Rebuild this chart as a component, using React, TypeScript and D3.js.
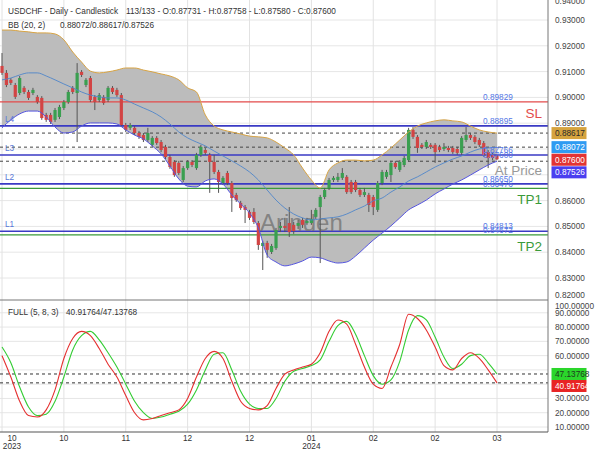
import React from "react";
import * as d3 from "d3";

// ---------- DATA ----------
const opens = [
  0.9122, 0.9095, 0.9068, 0.9048, 0.9017, 0.9037, 0.9021, 0.9017, 0.9002, 0.8998,
  0.8932, 0.8932, 0.8913, 0.8924, 0.8959, 0.8982, 0.9037, 0.9017, 0.9099, 0.9048,
  0.9075, 0.9002, 0.899, 0.9002, 0.899, 0.9037, 0.9029, 0.9009, 0.8893, 0.8882,
  0.8882, 0.8862, 0.8854, 0.8835, 0.8816, 0.8843, 0.8827, 0.8808, 0.8769, 0.875,
  0.8746, 0.868, 0.8726, 0.875, 0.8726, 0.8777, 0.8796, 0.8777, 0.875, 0.8711,
  0.8668, 0.8707, 0.8668, 0.8622, 0.8591, 0.8575, 0.8556, 0.8556, 0.8513, 0.8424,
  0.8436, 0.8401, 0.8416, 0.8494, 0.8502, 0.8513, 0.8506, 0.8502, 0.8525, 0.8513,
  0.8513, 0.8537, 0.8575, 0.8614, 0.8649, 0.868, 0.868, 0.8688, 0.8692, 0.8672,
  0.8672, 0.8641, 0.8622, 0.8622, 0.8614, 0.8564, 0.8668, 0.8692, 0.8699, 0.8746,
  0.8719, 0.8738, 0.8757, 0.8874, 0.8847, 0.8816, 0.8808, 0.8816, 0.8816, 0.8808,
  0.88, 0.8804, 0.8804, 0.88, 0.8785, 0.8835, 0.8854, 0.8847, 0.8835, 0.8823,
  0.8788, 0.8777, 0.87731,
];
const highs = [
  0.9172, 0.9106, 0.9075, 0.9056, 0.9083, 0.9044, 0.9029, 0.9037, 0.9009, 0.9005,
  0.894, 0.894, 0.8959, 0.8971, 0.899, 0.9029, 0.9044, 0.9133, 0.9106, 0.9075,
  0.9083, 0.9009, 0.9017, 0.9009, 0.9044, 0.9044, 0.9037, 0.9017, 0.8901, 0.8901,
  0.8889, 0.887, 0.8862, 0.8882, 0.885, 0.885, 0.8835, 0.8816, 0.8777, 0.8757,
  0.8754, 0.8734, 0.8757, 0.8757, 0.8785, 0.8816, 0.8804, 0.8785, 0.8777, 0.8719,
  0.8695, 0.8715, 0.8676, 0.863, 0.8599, 0.8583, 0.8564, 0.8571, 0.8521, 0.8444,
  0.8444, 0.8432, 0.8494, 0.8517, 0.8533, 0.8575, 0.8517, 0.8525, 0.8533, 0.8533,
  0.8564, 0.8571, 0.8622, 0.8649, 0.8688, 0.8695, 0.8707, 0.8726, 0.8699, 0.868,
  0.868, 0.8649, 0.8649, 0.863, 0.8622, 0.8676, 0.8719, 0.8719, 0.8754, 0.8754,
  0.8757, 0.8773, 0.8882, 0.8885, 0.8854, 0.8823, 0.8835, 0.8823, 0.8823, 0.8816,
  0.8823, 0.8812, 0.8812, 0.8808, 0.885, 0.8885, 0.8862, 0.8854, 0.8843, 0.8831,
  0.8796, 0.8785, 0.87758,
];
const lows = [
  0.9087, 0.904, 0.9048, 0.8994, 0.9009, 0.9013, 0.899, 0.9009, 0.8975, 0.8913,
  0.8905, 0.8897, 0.8905, 0.8916, 0.8951, 0.8975, 0.9013, 0.8827, 0.9079, 0.904,
  0.8982, 0.8951, 0.8982, 0.8971, 0.8982, 0.9013, 0.9002, 0.8885, 0.8866, 0.8874,
  0.8854, 0.8839, 0.8827, 0.8827, 0.8808, 0.8816, 0.8788, 0.8761, 0.8723, 0.8692,
  0.8699, 0.8672, 0.8719, 0.873, 0.8719, 0.8769, 0.8777, 0.863, 0.8703, 0.863,
  0.866, 0.866, 0.8556, 0.8595, 0.8564, 0.8513, 0.8525, 0.8509, 0.8409, 0.8331,
  0.8378, 0.8393, 0.8409, 0.8478, 0.8478, 0.8459, 0.8471, 0.849, 0.8494, 0.8506,
  0.8506, 0.8529, 0.8358, 0.8606, 0.8641, 0.8672, 0.8672, 0.868, 0.8626, 0.8626,
  0.8633, 0.8614, 0.8614, 0.8556, 0.8544, 0.8556, 0.866, 0.8684, 0.8672, 0.8723,
  0.8711, 0.873, 0.875, 0.8839, 0.8785, 0.88, 0.88, 0.88, 0.8746, 0.8788,
  0.8792, 0.8788, 0.8781, 0.8777, 0.8777, 0.8827, 0.8835, 0.8819, 0.8808, 0.8769,
  0.8726, 0.8757, 0.8758,
];
const closes = [
  0.9095, 0.9048, 0.9056, 0.9002, 0.9075, 0.9021, 0.8998, 0.9029, 0.8982, 0.892,
  0.8913, 0.8905, 0.8951, 0.8963, 0.8982, 0.9021, 0.9021, 0.9095, 0.9087, 0.9068,
  0.899, 0.8982, 0.9009, 0.8978, 0.9037, 0.9021, 0.9009, 0.8893, 0.8874, 0.8893,
  0.8862, 0.8847, 0.8835, 0.8862, 0.8843, 0.8823, 0.8796, 0.8769, 0.873, 0.8699,
  0.8707, 0.8726, 0.875, 0.8738, 0.8777, 0.8808, 0.8785, 0.875, 0.8711, 0.8672,
  0.8688, 0.8668, 0.861, 0.8602, 0.8571, 0.8564, 0.8533, 0.8517, 0.8428, 0.8436,
  0.8409, 0.8424, 0.8486, 0.8502, 0.8494, 0.8478, 0.8482, 0.8513, 0.8506, 0.8521,
  0.8529, 0.8564, 0.8614, 0.8641, 0.868, 0.8688, 0.8692, 0.8707, 0.8633, 0.8633,
  0.8641, 0.8622, 0.8633, 0.8583, 0.8575, 0.8668, 0.8711, 0.8711, 0.8746, 0.873,
  0.875, 0.8765, 0.8874, 0.8847, 0.8804, 0.8808, 0.8827, 0.8808, 0.8788, 0.8796,
  0.8808, 0.8796, 0.8788, 0.8785, 0.8843, 0.8854, 0.8843, 0.8827, 0.8816, 0.8777,
  0.8765, 0.8765, 0.876,
];

// Bollinger (20, 2) read every second candle
const bbUpper = [
  0.9261, 0.9261, 0.9257, 0.9254, 0.925, 0.925, 0.9246, 0.9223, 0.9176, 0.9137,
  0.9102, 0.9095, 0.9099, 0.9106, 0.9114, 0.9114, 0.9106, 0.9099, 0.9091, 0.9083,
  0.9068, 0.9037, 0.9021, 0.8932, 0.8889, 0.8874, 0.8866, 0.8858, 0.885, 0.8847,
  0.8843, 0.8827, 0.8804, 0.8777, 0.8726, 0.868, 0.8649, 0.8719, 0.8746, 0.8757,
  0.8757, 0.8754, 0.8757, 0.8777, 0.8804, 0.8835, 0.8866, 0.8889, 0.8901, 0.8909,
  0.8913, 0.8909, 0.8905, 0.8889, 0.8874, 0.8866, 0.88617,
];
const bbMid = [
  0.9068, 0.9075, 0.9087, 0.9095, 0.9095, 0.9083, 0.9068, 0.9052, 0.9037, 0.9021,
  0.9009, 0.9002, 0.8998, 0.8998, 0.899, 0.8974, 0.8959, 0.8944, 0.8924, 0.8897,
  0.8866, 0.8843, 0.8827, 0.8812, 0.8792, 0.8773, 0.8754, 0.8734, 0.8711, 0.868,
  0.8641, 0.8602, 0.8571, 0.8548, 0.8533, 0.8525, 0.8529, 0.8533, 0.8537, 0.8548,
  0.8564, 0.8579, 0.8599, 0.861, 0.8633, 0.8653, 0.8676, 0.8692, 0.8711, 0.873,
  0.8746, 0.8761, 0.8773, 0.8788, 0.88, 0.8804, 0.88072,
];
const bbLower = [
  0.8882, 0.8913, 0.8936, 0.8947, 0.8947, 0.8924, 0.8885, 0.8862, 0.8866, 0.8889,
  0.8901, 0.8901, 0.8901, 0.8897, 0.8874, 0.8854, 0.8839, 0.8812, 0.8781, 0.8734,
  0.8684, 0.8656, 0.8653, 0.8676, 0.8684, 0.8664, 0.8622, 0.8587, 0.8552, 0.8494,
  0.8389, 0.8362, 0.8347, 0.8354, 0.8366, 0.8381, 0.8378, 0.8366, 0.8358, 0.8362,
  0.8385, 0.8416, 0.8447, 0.8474, 0.8502, 0.8533, 0.8564, 0.8583, 0.8602, 0.8626,
  0.8645, 0.8664, 0.868, 0.8699, 0.8719, 0.8738, 0.87526,
];

// Full stochastic (5, 8, 3) read every second candle
const stochK = [
  60, 45, 28, 18, 17, 22, 36, 58, 72, 77, 74, 65, 54, 45, 32, 20, 15, 16, 18, 20,
  22, 30, 45, 58, 63, 58, 42, 28, 23, 22, 25, 37, 47, 50, 52, 54, 62, 77, 85, 82,
  68, 52, 40, 37, 52, 68, 89, 86, 78, 66, 53, 50, 58, 62, 58, 50, 40.91764,
];
const stochD = [
  66, 55, 38, 24, 18, 19, 28, 45, 64, 74, 77, 71, 62, 52, 40, 28, 20, 16, 17, 19,
  21, 26, 36, 50, 61, 62, 50, 35, 26, 23, 23, 30, 42, 49, 51, 53, 57, 70, 81, 84,
  75, 60, 46, 40, 43, 56, 78, 88, 85, 73, 59, 51, 54, 60, 61, 55, 47.13768,
];

const priceTicks = [0.82, 0.83, 0.84, 0.85, 0.86, 0.87, 0.88, 0.89, 0.9, 0.91, 0.92, 0.93, 0.94];
const stochTicks = [10, 20, 30, 40, 50, 60, 70, 80, 90, 100];
const dateTickIdx = [0, 14, 28, 42, 56, 70, 84, 98, 112];
const dateTickLabels = ["10", "10", "11", "12", "12", "01", "02", "02", "03"];
const yearTickLabels = ["2023", "", "", "", "", "2024", "", "", ""];

const levelPrices = [0.89829, 0.88895, 0.87766, 0.8665, 0.86476, 0.84813, 0.84672];
const levelKinds = ["sl", "l", "l", "l", "tp", "l", "tp"];
const levelNames = ["SL", "L4", "L3", "L2", "TP1", "L1", "TP2"];
const atPrice = 0.876;

const FONT = "'Liberation Sans', Arial, sans-serif";
const RIGHT = 548;
const TOP_BOTTOM = 300;
const BOT_BOTTOM = 432;

function stack(items: { y: number }[], gap: number) {
  const sorted = [...items].sort((a, b) => a.y - b.y);
  let prev = -Infinity;
  sorted.forEach((it) => {
    it.y = Math.max(it.y, prev + gap);
    prev = it.y;
  });
  return sorted;
}

export default function App() {
  const n = closes.length;
  const x = d3.scaleLinear().domain([0, 112]).range([2, 497]);
  const y = d3.scaleLinear().domain([0.82, 0.93]).range([303.8, 20]);
  const ys = d3.scaleLinear().domain([10, 90]).range([427, 312.8]);
  const f5 = d3.format(".5f");

  const bx = (_: number, k: number) => x(k * 2);
  const bbArea = d3
    .area<number>()
    .x(bx)
    .y0((_, k) => y(bbLower[k]))
    .y1((d) => y(d))
    .curve(d3.curveMonotoneX);
  const pLine = d3.line<number>().x(bx).y((d) => y(d)).curve(d3.curveMonotoneX);
  const sLine = d3.line<number>().x(bx).y((d) => ys(d)).curve(d3.curveMonotoneX);

  const lastU = bbUpper[bbUpper.length - 1];
  const lastM = bbMid[bbMid.length - 1];
  const lastL = bbLower[bbLower.length - 1];
  const lastK = stochK[stochK.length - 1];
  const lastD = stochD[stochD.length - 1];

  const priceBoxes = stack(
    [
      { v: lastU, y: y(lastU), fill: "#d6a33e", color: "#2a2a2a" },
      { v: lastM, y: y(lastM), fill: "#2f9bf2", color: "#ffffff" },
      { v: closes[n - 1], y: y(closes[n - 1]), fill: "#e23434", color: "#ffffff" },
      { v: lastL, y: y(lastL), fill: "#4b3ff0", color: "#ffffff" },
    ],
    12.6
  ) as any[];
  const stochBoxes = stack(
    [
      { v: lastD, y: ys(lastD), fill: "#2bd62b", color: "#1f3a1f" },
      { v: lastK, y: ys(lastK), fill: "#e82424", color: "#ffffff" },
    ],
    12
  ) as any[];

  // tick labels hidden where a value box covers them (as in the reference)
  const hiddenBy = (cy: number, boxes: any[]) => boxes.some((b) => Math.abs(b.y - cy) < 6);

  const levelColor = (k: string) => (k === "sl" ? "#e34b4b" : k === "tp" ? "#3a9a3a" : "#3a3ac4");

  return (
    <svg
      width={600}
      height={450}
      style={{ position: "absolute", left: 0, top: 0, background: "#fff" }}
      fontFamily={FONT}
    >
      <defs>
        <clipPath id="topClip">
          <rect x={0} y={0} width={RIGHT} height={TOP_BOTTOM} />
        </clipPath>
        <clipPath id="botClip">
          <rect x={0} y={TOP_BOTTOM} width={RIGHT} height={BOT_BOTTOM - TOP_BOTTOM} />
        </clipPath>
      </defs>
      <rect x={0} y={0} width={600} height={450} fill="#fff" />

      {/* grid */}
      <g clipPath="url(#topClip)">
        {priceTicks.map((p) => (
          <line key={p} x1={0} x2={RIGHT} y1={y(p)} y2={y(p)} stroke="#e6e6e6" strokeWidth={1} />
        ))}
      </g>
      <g clipPath="url(#botClip)">
        {stochTicks.map((v) => (
          <line key={v} x1={0} x2={RIGHT} y1={ys(v)} y2={ys(v)} stroke="#e6e6e6" strokeWidth={1} />
        ))}
      </g>
      {dateTickIdx.map((i) => (
        <line key={i} x1={x(i)} x2={x(i)} y1={0} y2={BOT_BOTTOM} stroke="#e2e2e2" strokeWidth={1} />
      ))}

      {/* price panel */}
      <g clipPath="url(#topClip)">
        <path d={bbArea(bbUpper) || ""} fill="#bcbcbc" />
        {levelPrices.map((p, k) => (
          <line
            key={"lv" + k}
            x1={0}
            x2={RIGHT}
            y1={y(p)}
            y2={y(p)}
            stroke={levelColor(levelKinds[k])}
            strokeWidth={levelKinds[k] === "l" ? 1.6 : 1.2}
          />
        ))}
        {[lastU, lastM, lastL].map((p, k) => (
          <line
            key={"dash" + k}
            x1={0}
            x2={RIGHT}
            y1={y(p)}
            y2={y(p)}
            stroke="#444"
            strokeWidth={1}
            strokeDasharray="3,3"
          />
        ))}
        <text x={260} y={231} fontSize={24} fill="#747474" fillOpacity={0.8}>
          Arinden
        </text>
        {closes.map((c, i) => {
          const o = opens[i];
          const up = c >= o;
          const col = up ? "#3a9f50" : "#d24444";
          const top = y(Math.max(o, c));
          const h = Math.max(1, y(Math.min(o, c)) - top);
          return (
            <g key={"c" + i}>
              <line x1={x(i)} x2={x(i)} y1={y(highs[i])} y2={y(lows[i])} stroke="#555" strokeWidth={1} />
              <rect x={x(i) - 1.6} y={top} width={3.2} height={h} fill={col} />
            </g>
          );
        })}
        <path d={pLine(bbMid) || ""} fill="none" stroke="#4f86c9" strokeWidth={0.9} />
        <path d={pLine(bbUpper) || ""} fill="none" stroke="#d8a444" strokeWidth={1} />
        <path d={pLine(bbLower) || ""} fill="none" stroke="#5555e0" strokeWidth={1} />

        {levelPrices.map((p, k) => (
          <text key={"lt" + k} x={483} y={y(p) - 1.8} fontSize={8.25} fill="#5577e6">
            {f5(p)}
          </text>
        ))}
        <text x={483} y={y(atPrice) - 1.8} fontSize={8.25} fill="#5577e6">
          {f5(atPrice)}
        </text>
        {levelPrices.map((p, k) =>
          levelKinds[k] === "l" ? (
            <text key={"ln" + k} x={5} y={y(p) - 4} fontSize={8.25} fill="#5a78d8">
              {levelNames[k]}
            </text>
          ) : (
            <text
              key={"ln" + k}
              x={542}
              y={y(p) + 16}
              fontSize={13.5}
              textAnchor="end"
              fill={levelColor(levelKinds[k])}
            >
              {levelNames[k]}
            </text>
          )
        )}
        <text x={542} y={y(atPrice) + 16} fontSize={13.5} textAnchor="end" fill="#999">
          At Price
        </text>
      </g>

      {/* stochastic panel */}
      <g clipPath="url(#botClip)">
        {[lastD, lastK].map((v, k) => (
          <line
            key={"sd" + k}
            x1={0}
            x2={RIGHT}
            y1={ys(v)}
            y2={ys(v)}
            stroke="#333"
            strokeWidth={1}
            strokeDasharray="3,3"
          />
        ))}
        <path d={sLine(stochD) || ""} fill="none" stroke="#33cc33" strokeWidth={1.1} />
        <path d={sLine(stochK) || ""} fill="none" stroke="#e53030" strokeWidth={1.1} />
      </g>

      {/* frame */}
      <line x1={RIGHT} x2={RIGHT} y1={0} y2={BOT_BOTTOM} stroke="#777" strokeWidth={1} />
      <line x1={0} x2={RIGHT} y1={TOP_BOTTOM} y2={TOP_BOTTOM} stroke="#777" strokeWidth={1} />
      <line x1={0} x2={RIGHT} y1={BOT_BOTTOM} y2={BOT_BOTTOM} stroke="#555" strokeWidth={1.2} />

      {/* right axis labels */}
      {priceTicks.map((p) => {
        const cy = Math.min(295, Math.max(1, y(p)));
        if (hiddenBy(cy, priceBoxes)) return null;
        return (
          <text key={"pt" + p} x={555} y={cy + 3} fontSize={8.25} fill="#444">
            {f5(p)}
          </text>
        );
      })}
      {priceBoxes.map((b, k) => (
        <g key={"pb" + k}>
          <rect x={551.5} y={b.y - 6} width={35} height={12} fill={b.fill} />
          <text x={555} y={b.y + 3} fontSize={8.25} fill={b.color}>
            {f5(b.v)}
          </text>
        </g>
      ))}
      {stochTicks.map((v) => {
        const cy = Math.min(427, Math.max(306, ys(v)));
        if (hiddenBy(cy, stochBoxes)) return null;
        return (
          <text key={"st" + v} x={555} y={cy + 3} fontSize={8.25} fill="#444">
            {f5(v)}
          </text>
        );
      })}
      {stochBoxes.map((b, k) => (
        <g key={"sb" + k}>
          <rect x={551.5} y={b.y - 6} width={35} height={12} fill={b.fill} />
          <text x={555} y={b.y + 3} fontSize={8.25} fill={b.color}>
            {f5(b.v)}
          </text>
        </g>
      ))}

      {/* date axis */}
      {dateTickIdx.map((i, k) => {
        const cx = Math.max(12, x(i));
        return (
          <g key={"dt" + k}>
            <text x={cx} y={441} fontSize={8.25} textAnchor="middle" fill="#333">
              {dateTickLabels[k]}
            </text>
            {yearTickLabels[k] && (
              <text x={cx} y={449} fontSize={8.25} textAnchor="middle" fill="#333">
                {yearTickLabels[k]}
              </text>
            )}
          </g>
        );
      })}

      {/* headers */}
      <text x={8} y={13.7} fontSize={8.25} fill="#333">
        USDCHF - Daily - Candlestick
      </text>
      <text x={126} y={13.7} fontSize={8.25} fill="#333">
        {`${n}/133 - O:${f5(opens[n - 1])} - H:${f5(highs[n - 1])} - L:${f5(lows[n - 1])} - C:${f5(closes[n - 1])}`}
      </text>
      <text x={8} y={28} fontSize={8.25} fill="#333">
        BB (20, 2)
      </text>
      <text x={60} y={28} fontSize={8.25} fill="#333">
        {`${f5(lastM)}/${f5(lastU)}/${f5(lastL)}`}
      </text>
      <text x={8} y={315} fontSize={8.25} fill="#333">
        FULL (5, 8, 3)
      </text>
      <text x={66} y={315} fontSize={8.25} fill="#333">
        {`${f5(lastK)}/${f5(lastD)}`}
      </text>
    </svg>
  );
}
